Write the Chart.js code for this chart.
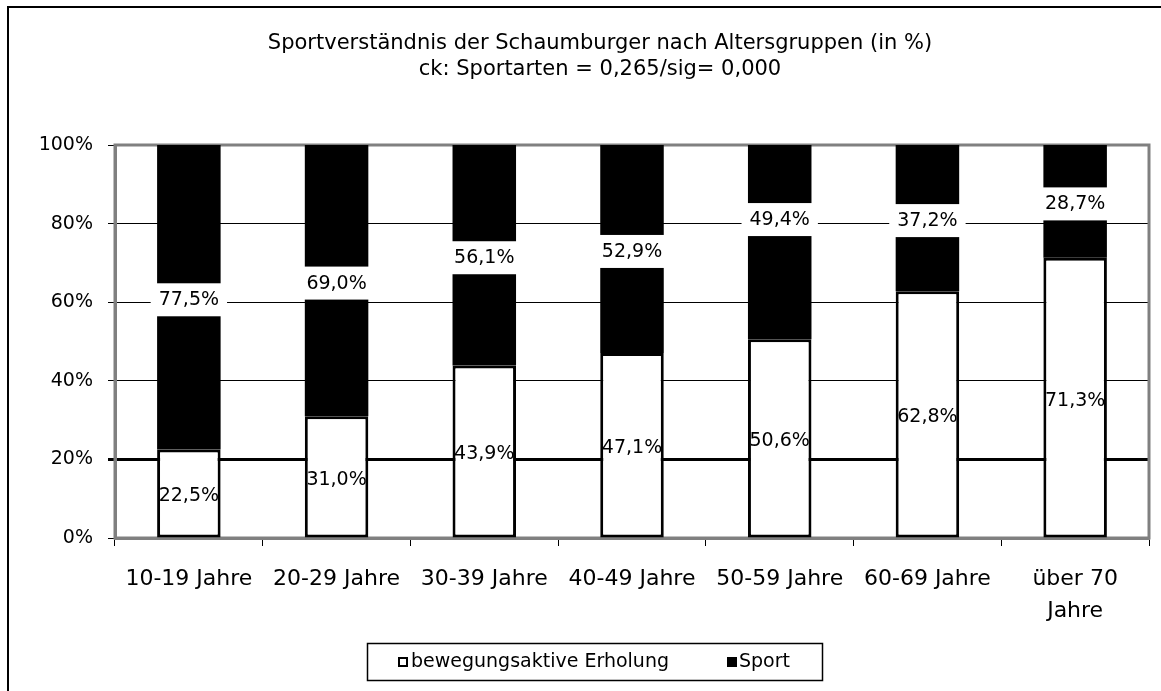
<!DOCTYPE html>
<html>
<head>
<meta charset="utf-8">
<script src="https://cdn.jsdelivr.net/npm/chart.js@4/dist/chart.umd.min.js"></script>
<style>
    html, body { margin: 0; padding: 0; background: #fff; }
</style>
</head>
<body>
<canvas id="chart-sport" width="1161" height="691"></canvas>
<script>
// Daten
const categories = ["10-19 Jahre", "20-29 Jahre", "30-39 Jahre", "40-49 Jahre", "50-59 Jahre", "60-69 Jahre", ["über 70", "Jahre"]];
const erholung = [22.5, 31.0, 43.9, 47.1, 50.6, 62.8, 71.3];
const sport = [77.5, 69.0, 56.1, 52.9, 49.4, 37.2, 28.7];
const yTicks = [0, 20, 40, 60, 80, 100];
const seriesNames = ["bewegungsaktive Erholung", "Sport"];
const titleLines = ["Sportverständnis der Schaumburger nach Altersgruppen (in %)", "ck: Sportarten = 0,265/sig= 0,000"];

// label moved by hand in the original (px, negative = up)
const sportLabelShift = [0, 0, 0, 0, -25, 0, 0];

const FONT = "DejaVu Sans";
Chart.defaults.font.family = FONT;
Chart.defaults.color = "#000";

// outer frame (only top/left edges visible in the picture)
const framePlugin = {
    id: "frame",
    beforeDraw(chart) {
        const ctx = chart.ctx;
        ctx.save();
        ctx.fillStyle = "#fff";
        ctx.fillRect(0, 0, chart.width, chart.height);
        ctx.strokeStyle = "#000";
        ctx.lineWidth = 2;
        ctx.beginPath();
        ctx.moveTo(8, chart.height + 2);
        ctx.lineTo(8, 7);
        ctx.lineTo(chart.width + 2, 7);
        ctx.stroke();
        ctx.restore();
    }
};

// grey border around plot area, drawn before the bars
const plotBorderPlugin = {
    id: "plotBorder",
    beforeDatasetsDraw(chart) {
        const a = chart.chartArea, ctx = chart.ctx;
        ctx.save();
        ctx.strokeStyle = "#808080";
        ctx.lineWidth = 3;
        ctx.strokeRect(a.left, a.top, a.right - a.left, a.bottom - a.top);
        ctx.restore();
    }
};

// value labels in the middle of each segment
const valueLabelPlugin = {
    id: "valueLabels",
    afterDatasetsDraw(chart) {
        const ctx = chart.ctx;
        ctx.save();
        ctx.font = "19px '" + FONT + "'";
        ctx.textAlign = "center";
        ctx.textBaseline = "middle";
        chart.data.datasets.forEach((ds, di) => {
            chart.getDatasetMeta(di).data.forEach((bar, i) => {
                const txt = ds.data[i].toFixed(1).replace(".", ",") + "%";
                let cy = (bar.y + bar.base) / 2 + 3;
                if (di === 1) {
                    cy += sportLabelShift[i];
                    const w = ctx.measureText(txt).width + 16;
                    ctx.fillStyle = "#fff";
                    ctx.fillRect(bar.x - w / 2, cy - 17, w, 33);
                }
                ctx.fillStyle = "#000";
                ctx.fillText(txt, bar.x, cy);
            });
        });
        ctx.restore();
    }
};

// boxed legend at the bottom
const legendBoxPlugin = {
    id: "legendBox",
    afterDraw(chart) {
        const ctx = chart.ctx;
        ctx.save();
        ctx.strokeStyle = "#000";
        ctx.lineWidth = 1.5;
        ctx.strokeRect(367.5, 643.5, 455, 37);
        const cy = 662;
        ctx.font = "19px '" + FONT + "'";
        ctx.textBaseline = "middle";
        ctx.textAlign = "left";
        // white square
        ctx.fillStyle = "#fff";
        ctx.fillRect(398, cy - 5, 10, 10);
        ctx.lineWidth = 2;
        ctx.strokeRect(399, cy - 4, 8, 8);
        ctx.fillStyle = "#000";
        ctx.fillText(seriesNames[0], 411, cy);
        // black square
        ctx.fillRect(727, cy - 5, 10, 10);
        ctx.fillText(seriesNames[1], 739, cy);
        ctx.restore();
    }
};

new Chart(document.getElementById("chart-sport"), {
    type: "bar",
    data: {
        labels: categories,
        datasets: [
            {
                label: seriesNames[0],
                data: erholung,
                backgroundColor: "#fff",
                borderColor: "#000",
                borderWidth: 3,
                borderSkipped: false,
                barPercentage: 0.43,
                categoryPercentage: 1
            },
            {
                label: seriesNames[1],
                data: sport,
                backgroundColor: "#000",
                borderWidth: 0,
                barPercentage: 0.43,
                categoryPercentage: 1
            }
        ]
    },
    options: {
        responsive: false,
        animation: false,
        layout: { padding: { top: 31, left: 39, right: 0, bottom: 63 } },
        plugins: {
            legend: { display: false },
            tooltip: { enabled: false },
            title: {
                display: true,
                text: titleLines,
                color: "#000",
                font: { family: FONT, size: 21, weight: "normal", lineHeight: 26 / 21 },
                padding: { top: 0, bottom: 62 }
            }
        },
        scales: {
            x: {
                stacked: true,
                grid: { offset: true, drawOnChartArea: false, color: "#000", tickLength: 8, lineWidth: 1 },
                border: { color: "#808080", width: 3 },
                ticks: {
                    color: "#000",
                    font: { family: FONT, size: 22, lineHeight: 32 / 22 },
                    padding: 17,
                    maxRotation: 0,
                    autoSkip: false
                },
                afterFit: s => { s.height = 90; }
            },
            y: {
                stacked: true,
                min: 0,
                max: 100,
                afterBuildTicks: s => { s.ticks = yTicks.map(v => ({ value: v })); },
                ticks: {
                    color: "#000",
                    font: { family: FONT, size: 19 },
                    padding: 15,
                    callback: v => v + "%"
                },
                grid: {
                    color: c => (c.tick && (c.tick.value === 0 || c.tick.value === 100)) ? "#808080" : "#000",
                    lineWidth: c => (c.tick && c.tick.value === 20) ? 3 : 1,
                    tickColor: "#000",
                    tickWidth: c => (c.tick && c.tick.value === 20) ? 3 : 1,
                    tickLength: 7
                },
                border: { color: "#808080", width: 3 },
                afterFit: s => { s.width = 76; }
            },
            // empty spacer on the right so the plot ends where the original does
            yRight: {
                position: "right",
                grid: { display: false },
                ticks: { display: false },
                border: { display: false },
                afterFit: s => { s.width = 12; }
            }
        }
    },
    plugins: [framePlugin, plotBorderPlugin, valueLabelPlugin, legendBoxPlugin]
});
</script>
</body>
</html>
